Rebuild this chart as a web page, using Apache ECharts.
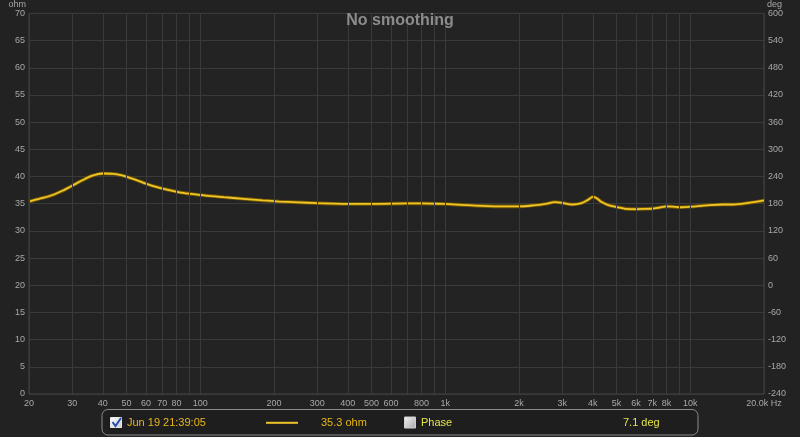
<!DOCTYPE html>
<html><head><meta charset="utf-8">
<script src="https://cdn.jsdelivr.net/npm/echarts@6/dist/echarts.min.js"></script>
<style>html,body{margin:0;padding:0;background:#222222;}#c{width:800px;height:437px;}</style>
</head><body><div id="c"></div>
<script>
// ---- data ----
const freqs = [20, 22, 25, 28, 30, 33, 36, 40, 44, 48, 52, 56, 60, 66, 73, 82, 92, 105, 125, 150, 180, 210, 250, 300, 350, 400, 500, 600, 700, 800, 900, 1000, 1200, 1400, 1700, 2000, 2300, 2600, 2800, 3000, 3300, 3600, 3850, 4000, 4150, 4350, 4600, 5000, 5500, 6000, 6500, 7000, 7500, 8000, 8500, 9000, 10000, 11000, 12000, 13500, 15000, 17000, 20000];
const ohms  = [35.4, 35.9, 36.6, 37.6, 38.3, 39.3, 40.1, 40.55, 40.5, 40.2, 39.7, 39.2, 38.7, 38.1, 37.6, 37.1, 36.8, 36.5, 36.2, 35.9, 35.6, 35.4, 35.25, 35.1, 35.0, 34.95, 34.95, 35.0, 35.05, 35.05, 35.0, 34.95, 34.75, 34.6, 34.5, 34.5, 34.7, 35.0, 35.3, 35.15, 34.85, 35.1, 35.8, 36.25, 36.0, 35.3, 34.8, 34.4, 34.05, 34.0, 34.05, 34.1, 34.3, 34.5, 34.45, 34.35, 34.45, 34.6, 34.75, 34.85, 34.85, 35.1, 35.6];
const gridFreqs = [20,30,40,50,60,70,80,90,100,200,300,400,500,600,700,800,900,1000,2000,3000,4000,5000,6000,7000,8000,9000,10000,20000];
const labelFreqs = [20,30,40,50,60,70,80,100,200,300,400,500,600,800,1000,2000,3000,4000,5000,6000,7000,8000,10000,20000];
const titleText = 'No smoothing';
const legendTime = 'Jun 19 21:39:05';
const cursorOhm = '35.3 ohm';
const phaseLabel = 'Phase';
const cursorPhase = '7.1 deg';

const chart = echarts.init(document.getElementById('c'), null, {renderer:'canvas'});
const labelFont = {color:'#a8a8a8', fontSize:9, fontFamily:'Liberation Sans, Arial, sans-serif'};
const pts = freqs.map((f,i)=>[f, ohms[i]]);
function fmtFreq(v){
  v = Math.round(v);
  if (v >= 20000) return '20.0k Hz';
  if (v >= 1000) return (v/1000) + 'k';
  return String(v);
}
const legFont = 'Liberation Sans Narrow, Liberation Sans, Arial, sans-serif';
chart.setOption({
  animation:false,
  backgroundColor:'#222222',
  title:{text:titleText, left:'center', top:8, textStyle:{color:'#8c8c8c', fontSize:16, fontWeight:'bold', fontFamily:'Liberation Sans, Arial, sans-serif'}},
  grid:{left:29, top:12, width:735, height:382, show:true, borderColor:'#444444', borderWidth:1, backgroundColor:'#232323'},
  xAxis:{type:'log', min:20, max:20000, logBase:10,
    axisLine:{show:false}, axisTick:{show:false}, splitLine:{show:false}, minorTick:{show:false},
    axisLabel:Object.assign({margin:5, customValues:labelFreqs, formatter:fmtFreq, showMinLabel:true, showMaxLabel:true}, labelFont)},
  yAxis:[
    {type:'value', min:0, max:70, interval:5, position:'left',
     name:'ohm', nameLocation:'end', nameGap:4, nameTextStyle:Object.assign({align:'right', padding:[0,3,0,0]}, labelFont),
     axisLine:{show:false}, axisTick:{show:false},
     axisLabel:Object.assign({margin:4}, labelFont),
     splitLine:{show:true, lineStyle:{color:'#3a3a3a', width:1}}},
    {type:'value', min:-240, max:600, interval:60, position:'right',
     name:'deg', nameLocation:'end', nameGap:4, nameTextStyle:Object.assign({align:'left', padding:[0,0,0,3]}, labelFont),
     axisLine:{show:false}, axisTick:{show:false},
     axisLabel:Object.assign({margin:4}, labelFont),
     splitLine:{show:false}}
  ],
  series:[
    {type:'line', data:[], z:1, silent:true,
     markLine:{silent:true, symbol:'none', animation:false, label:{show:false},
       lineStyle:{color:'#3a3a3a', width:1, type:'solid'},
       data:gridFreqs.map(f=>({xAxis:f}))}},
    {type:'line', data:pts, smooth:0.3, showSymbol:false, z:3, silent:true,
     lineStyle:{color:'#735800', width:3.6}},
    {type:'line', data:pts, smooth:0.3, showSymbol:false, z:4, silent:true,
     lineStyle:{color:'#eec428', width:1.8}}
  ],
  graphic:[
    {type:'rect', shape:{x:102, y:409.5, width:596, height:25.5, r:6}, style:{fill:'#1e1e1e', stroke:'#8a8a8a', lineWidth:1}},
    {type:'rect', shape:{x:110.5, y:417.5, width:11, height:10}, style:{fill:new echarts.graphic.LinearGradient(0,0,1,1,[{offset:0,color:'#ffffff'},{offset:1,color:'#c8ccd4'}]), stroke:'#e8e8e8', lineWidth:1}},
    {type:'polyline', shape:{points:[[112.5,422],[115.5,426],[121,418]]}, style:{stroke:'#2a4fa8', lineWidth:2, fill:null}},
    {type:'text', style:{x:127, y:423, text:legendTime, fill:'#e8b61a', fontSize:11, fontFamily:legFont, verticalAlign:'middle'}},
    {type:'line', shape:{x1:266, y1:422.8, x2:298, y2:422.8}, style:{stroke:'#eec428', lineWidth:2}},
    {type:'text', style:{x:321, y:423, text:cursorOhm, fill:'#e8b61a', fontSize:11, fontFamily:legFont, verticalAlign:'middle'}},
    {type:'rect', shape:{x:404.5, y:417, width:11, height:11}, style:{fill:new echarts.graphic.LinearGradient(0,0,1,1,[{offset:0,color:'#f4f4f4'},{offset:1,color:'#a8a8a8'}]), stroke:'#d0d0d0', lineWidth:1}},
    {type:'text', style:{x:421, y:423, text:phaseLabel, fill:'#e4e44a', fontSize:11, fontFamily:legFont, verticalAlign:'middle'}},
    {type:'text', style:{x:623, y:423, text:cursorPhase, fill:'#e4e44a', fontSize:11, fontFamily:legFont, verticalAlign:'middle'}}
  ]
});
</script></body></html>
